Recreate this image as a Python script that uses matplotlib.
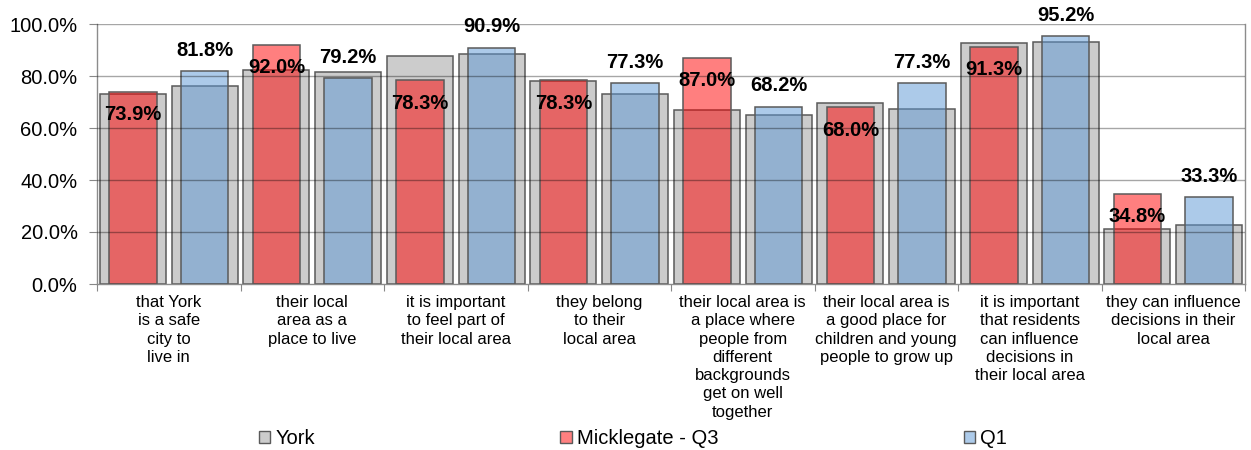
#!/usr/bin/env python3
"""Micklegate Q3 vs Q1 vs York - agreement by statement."""
import numpy as np
import matplotlib
matplotlib.use('Agg')
import matplotlib.pyplot as plt
from matplotlib.patches import Patch

categories = [
    'that York\nis a safe\ncity to\nlive in',
    'their local\narea as a\nplace to live',
    'it is important\nto feel part of\ntheir local area',
    'they belong\nto their\nlocal area',
    'their local area is\na place where\npeople from\ndifferent\nbackgrounds\nget on well\ntogether',
    'their local area is\na good place for\nchildren and young\npeople to grow up',
    'it is important\nthat residents\ncan influence\ndecisions in\ntheir local area',
    'they can influence\ndecisions in their\nlocal area',
]
# York values shown behind each ward bar (Q3 position, Q1 position)
york_q3 = [72.9, 82.3, 87.8, 78.1, 66.8, 69.7, 92.6, 21.0]
york_q1 = [76.2, 81.5, 88.6, 72.9, 65.0, 67.2, 93.2, 22.8]
mickle_q3 = [73.9, 92.0, 78.3, 78.3, 87.0, 68.0, 91.3, 34.8]
q1 = [81.8, 79.2, 90.9, 77.3, 68.2, 77.3, 95.2, 33.3]

GREY = '#CCCCCC'
RED = (1.0, 0.0, 0.0, 0.5)
BLUE = (0.357, 0.592, 0.835, 0.5)
EDGE = '#5a5a5a'

fig = plt.figure(figsize=(12.51, 4.5), dpi=100)
ax = fig.add_axes([97/1251, 1-284/450, 1148/1251, 260/450])

x = np.arange(len(categories))
off = 0.25
ax.bar(x - off, york_q3, 0.46, color=GREY, edgecolor=EDGE, lw=1.1, zorder=2)
ax.bar(x + off, york_q1, 0.46, color=GREY, edgecolor=EDGE, lw=1.1, zorder=2)
ax.bar(x - off, mickle_q3, 0.33, color=RED, edgecolor=EDGE, lw=1.1, zorder=3)
ax.bar(x + off, q1, 0.33, color=BLUE, edgecolor=EDGE, lw=1.1, zorder=3)

lab = dict(fontsize=14.5, fontweight='bold', family='Liberation Sans',
           ha='center', va='center', textcoords='offset points', zorder=6)
for xi, v in zip(x - off, mickle_q3):
    ax.annotate(f'{v:.1f}%', (xi, v), xytext=(0, -16.5), **lab)
for xi, v in zip(x + off, q1):
    ax.annotate(f'{v:.1f}%', (xi, v), xytext=(0, 15), **lab)

ax.set_xlim(-0.5, len(categories) - 0.5)
ax.set_ylim(0, 100)
ax.set_yticks(np.arange(0, 101, 20))
ax.set_yticklabels([f'{t:.1f}%' for t in np.arange(0, 101, 20)],
                   fontsize=14.5, family='Liberation Sans')
for t in ax.get_yticks()[1:]:
    ax.axhline(t, color='black', alpha=0.35, lw=1, zorder=4)

ax.set_xticks(np.arange(-0.5, len(categories)), minor=False)
ax.set_xticklabels([])
ax.set_xticks(x, minor=True)
ax.set_xticklabels(categories, minor=True, fontsize=12,
                   family=['Liberation Sans Narrow', 'Liberation Sans'],
                   linespacing=1.27, va='top')
ax.tick_params(axis='x', which='minor', length=0, pad=8)
ax.tick_params(axis='x', which='major', length=5, color='#888888')
ax.tick_params(axis='y', length=6, color='#888888', pad=8)

for s in ax.spines.values():
    s.set_color('#8c8c8c')
    s.set_linewidth(1)
ax.spines['top'].set_visible(False)

handles = [Patch(facecolor=GREY, edgecolor=EDGE, lw=1),
           Patch(facecolor='#FF8080', edgecolor=EDGE, lw=1),
           Patch(facecolor='#ADCBEA', edgecolor=EDGE, lw=1)]
fig.legend(handles, ['York', 'Micklegate - Q3', 'Q1'], ncol=3,
           loc='center left', bbox_to_anchor=(259/1251, 11/450),
           frameon=False, prop={'family': 'Liberation Sans', 'size': 14.5},
           handlelength=0.55, handleheight=0.55, handletextpad=0.25,
           columnspacing=12.2, borderpad=0, borderaxespad=0)

plt.savefig('out.png', dpi=100)
plt.close()
print("out.png")
